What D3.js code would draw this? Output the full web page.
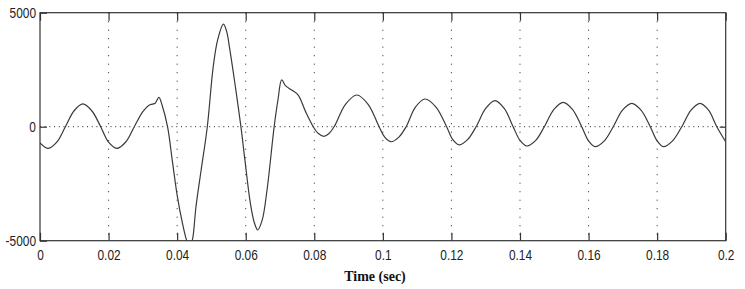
<!DOCTYPE html>
<html>
<head>
<meta charset="utf-8">
<script src="https://cdn.jsdelivr.net/npm/d3@7"></script>
<style>
    html, body { margin: 0; padding: 0; background: #fff; }
    svg { display: block; }
</style>
</head>
<body>
<div id="chart"></div>
<script>
// time axis (sec) and signal samples
const time = [
    0.0000, 0.0024, 0.0049, 0.0074, 0.0100, 0.0125, 0.0151, 0.0177, 0.0200, 0.0224,
    0.0250, 0.0275, 0.0300, 0.0318, 0.0328, 0.0336, 0.0347, 0.0356, 0.0372, 0.0386,
    0.0400, 0.0415, 0.0428, 0.0436, 0.0444, 0.0455, 0.0470, 0.0488, 0.0505, 0.0518,
    0.0535, 0.0544, 0.0553, 0.0568, 0.0586, 0.0598, 0.0613, 0.0625, 0.0635, 0.0648,
    0.0662, 0.0683, 0.0694, 0.0705, 0.0716, 0.0734, 0.0753, 0.0775, 0.0797, 0.0812,
    0.0828, 0.0843, 0.0858, 0.0891, 0.0924, 0.0957, 0.0989, 0.1006, 0.1024, 0.1046,
    0.1068, 0.1095, 0.1123, 0.1155, 0.1186, 0.1204, 0.1223, 0.1247, 0.1272, 0.1300,
    0.1327, 0.1354, 0.1380, 0.1400, 0.1420, 0.1446, 0.1471, 0.1499, 0.1526, 0.1553,
    0.1580, 0.1600, 0.1619, 0.1646, 0.1672, 0.1699, 0.1726, 0.1753, 0.1780, 0.1800,
    0.1818, 0.1845, 0.1872, 0.1899, 0.1925, 0.1950, 0.1974, 0.2000
];
const signal = [
    -710, -950, -680, 0, 710, 1000, 700, 0, -680, -950,
    -670, 0, 660, 940, 990, 1030, 1290, 950, 0, -1500,
    -3000, -4200, -5000, -5250, -5000, -3500, -1900, 0, 2600, 3800,
    4500, 4200, 3450, 1950, 0, -1500, -3300, -4200, -4530, -4100,
    -2800, 0, 1170, 2050, 1800, 1610, 1390, 650, 0, -300,
    -420, -300, 0, 980, 1390, 980, 0, -470, -660, -470,
    0, 860, 1215, 860, 0, -570, -800, -570, 0, 800,
    1140, 800, 0, -600, -846, -600, 0, 760, 1070, 760,
    0, -620, -877, -620, 0, 725, 1025, 725, 0, -620,
    -877, -620, 0, 725, 1025, 725, 0, -660
];
const xTicks = [0, 0.02, 0.04, 0.06, 0.08, 0.1, 0.12, 0.14, 0.16, 0.18, 0.2];
const yTicks = [-5000, 0, 5000];
const xLabel = 'Time (sec)';

const width = 745;
const height = 289;
const margin = { top: 12.7, right: 19.3, bottom: 48.3, left: 40 };
const graphWidth = width - margin.left - margin.right;
const graphHeight = height - margin.top - margin.bottom;

const svg = d3
    .select('#chart')
    .append('svg')
    .attr('width', width)
    .attr('height', height)
    .attr('viewBox', [0, 0, width, height]);

const graph = svg.append('g').attr('transform', `translate(${margin.left}, ${margin.top})`);

const x = d3.scaleLinear().domain([0, 0.2]).range([0, graphWidth]);
const y = d3.scaleLinear().domain([-5000, 5000]).range([graphHeight, 0]);

const tickFont = '"Liberation Sans Narrow", "Arial Narrow", "Liberation Sans", sans-serif';
const squeeze = 'scale(0.85,1)';

// dotted grid
graph.append('g')
    .selectAll('line')
    .data(xTicks.slice(1, -1))
    .join('line')
    .attr('x1', (d) => x(d))
    .attr('x2', (d) => x(d))
    .attr('y1', 0)
    .attr('y2', graphHeight)
    .attr('stroke', '#222')
    .attr('stroke-width', 1)
    .attr('stroke-dasharray', '1,7.5');

graph.append('line')
    .attr('x1', 0)
    .attr('x2', graphWidth)
    .attr('y1', y(0))
    .attr('y2', y(0))
    .attr('stroke', '#222')
    .attr('stroke-width', 1)
    .attr('stroke-dasharray', '1,3.7');

// signal, clipped to the plot box
svg.append('defs')
    .append('clipPath')
    .attr('id', 'plot-clip')
    .append('rect')
    .attr('width', graphWidth)
    .attr('height', graphHeight);

const line = d3
    .line()
    .x((d, i) => x(time[i]))
    .y((d) => y(d))
    .curve(d3.curveCatmullRom.alpha(0.5));

graph.append('path')
    .attr('clip-path', 'url(#plot-clip)')
    .attr('d', line(signal))
    .attr('fill', 'none')
    .attr('stroke', '#3a3a3a')
    .attr('stroke-width', 1.2);

// axes with inside ticks
const styleAxis = (g) => {
    g.select('.domain').remove();
    g.selectAll('.tick line').attr('stroke', '#333').attr('stroke-width', 1.2);
    g.selectAll('text')
        .attr('fill', '#222')
        .attr('font-family', tickFont)
        .attr('font-size', 14);
};

graph.append('g')
    .attr('transform', `translate(0, ${graphHeight})`)
    .call(d3.axisBottom(x).tickValues(xTicks).tickSize(-8).tickPadding(9).tickFormat((d) => `${+d.toFixed(2)}`))
    .call(styleAxis)
    .call((g) => g.selectAll('text').attr('transform', squeeze));

graph.append('g')
    .call(d3.axisTop(x).tickValues(xTicks).tickSize(-8).tickFormat(''))
    .call(styleAxis);

graph.append('g')
    .call(d3.axisLeft(y).tickValues(yTicks).tickSize(-7).tickPadding(4).tickFormat((d) => String(d)))
    .call(styleAxis)
    .call((g) => g.selectAll('text').attr('x', 0).attr('transform', `translate(-4,0) ${squeeze}`));

graph.append('g')
    .attr('transform', `translate(${graphWidth}, 0)`)
    .call(d3.axisRight(y).tickValues([0]).tickSize(-6).tickFormat(''))
    .call(styleAxis);

// frame
graph.append('rect')
    .attr('width', graphWidth)
    .attr('height', graphHeight)
    .attr('fill', 'none')
    .attr('stroke', '#333')
    .attr('stroke-width', 1.2);

// axis title
svg.append('text')
    .attr('x', 375)
    .attr('y', 281)
    .attr('text-anchor', 'middle')
    .attr('font-family', '"Liberation Serif", "Times New Roman", serif')
    .attr('font-weight', 'bold')
    .attr('font-size', 14)
    .attr('fill', '#111')
    .text(xLabel);
</script>
</body>
</html>
